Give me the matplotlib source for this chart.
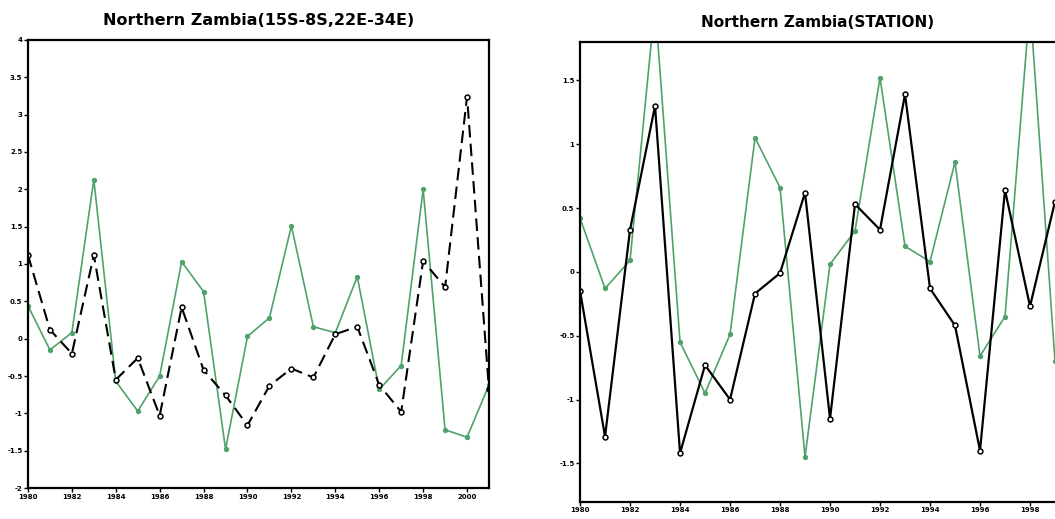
import numpy as np
import matplotlib
matplotlib.use('Agg')
from matplotlib import pyplot as plt

# left panel: area average 1980-2001
years_a = np.arange(1980, 2002)
green_a = [0.44, -0.15, 0.08, 2.13, -0.57, -0.97, -0.50, 1.03, 0.63, -1.48, 0.03,
           0.28, 1.51, 0.16, 0.08, 0.83, -0.68, -0.36, 2.00, -1.22, -1.32, -0.62]
black_a = [1.12, 0.12, -0.20, 1.12, -0.55, -0.26, -1.03, 0.42, -0.42, -0.76, -1.16,
           -0.63, -0.40, -0.52, 0.06, 0.16, -0.62, -0.98, 1.04, 0.69, 3.24, -0.68]

# right panel: station data 1980-1999 (plot cut at 1999)
years_b = np.arange(1980, 2000)
green_b = [0.42, -0.13, 0.09, 2.10, -0.55, -0.95, -0.49, 1.05, 0.66, -1.45,
           0.06, 0.32, 1.52, 0.20, 0.08, 0.86, -0.66, -0.35, 2.10, -0.70]
black_b = [-0.15, -1.29, 0.33, 1.30, -1.42, -0.73, -1.00, -0.17, -0.01, 0.62,
           -1.15, 0.53, 0.33, 1.39, -0.13, -0.42, -1.40, 0.64, -0.27, 0.55]

xticks = np.arange(1980, 2001, 2)
green = '#4fa26a'

fig = plt.figure(figsize=(10.55, 5.19), dpi=100)

def style(ax):
    for s in ax.spines.values():
        s.set_linewidth(1.6)
    ax.tick_params(axis='both', direction='out', length=3, width=1, labelsize=5, pad=1)
    for lab in ax.get_xticklabels() + ax.get_yticklabels():
        lab.set_fontweight('bold')

ax1 = fig.add_axes([0.0265, 0.0597, 0.437, 0.8633])
ax1.plot(years_a, green_a, color=green, lw=1.2, marker='o', ms=2.8, mfc=green, mec=green)
ax1.plot(years_a, black_a, color='black', lw=1.5, ls=(0, (6, 3)), marker='o', ms=3.5,
         mfc='white', mec='black', mew=1.1)
ax1.set_xlim(1980, 2001)
ax1.set_ylim(-2, 4)
ax1.set_xticks(xticks)
ax1.set_yticks(np.arange(-2, 4.01, 0.5))
ax1.set_yticklabels(['-2', '-1.5', '-1', '-0.5', '0', '0.5', '1', '1.5', '2', '2.5', '3', '3.5', '4'])
style(ax1)
ax1.set_title('Northern Zambia(15S-8S,22E-34E)', fontsize=11.5, fontweight='bold', pad=11)

ax2 = fig.add_axes([0.5498, 0.0333, 0.4502, 0.8858])
ax2.plot(years_b, green_b, color=green, lw=1.2, marker='o', ms=2.8, mfc=green, mec=green)
ax2.plot(years_b, black_b, color='black', lw=1.6, marker='o', ms=3.5,
         mfc='white', mec='black', mew=1.1)
ax2.set_xlim(1980, 1999)
ax2.set_ylim(-1.8, 1.8)
ax2.set_xticks(np.arange(1980, 1999, 2))
ax2.set_yticks([-1.5, -1, -0.5, 0, 0.5, 1, 1.5])
ax2.set_yticklabels(['-1.5', '-1', '-0.5', '0', '0.5', '1', '1.5'])
ax2.spines['right'].set_visible(False)
style(ax2)
ax2.set_title('Northern Zambia(STATION)', fontsize=11, fontweight='bold', pad=11)

fig.savefig('out.png', dpi=100)
